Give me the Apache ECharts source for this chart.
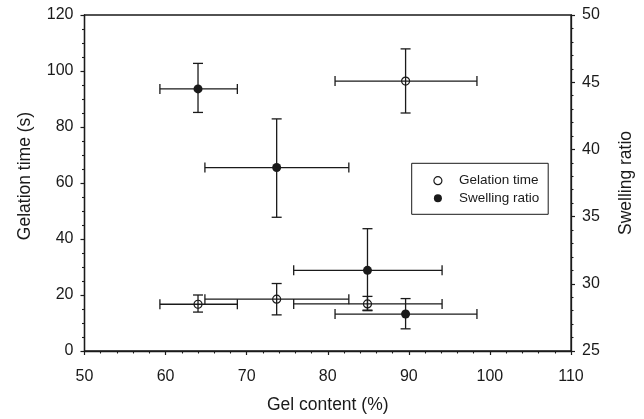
<!DOCTYPE html>
<html>
<head>
<meta charset="utf-8">
<script src="https://cdn.jsdelivr.net/npm/echarts@6/dist/echarts.min.js"></script>
<style>
html,body{margin:0;padding:0;background:#fff;}
#chart{width:644px;height:419px;}
</style>
</head>
<body>
<div id="chart"></div>
<script>
// Gel content (%) per sample, with horizontal error range
const gelContent = [64.0, 73.7, 84.9, 89.6];
const gelContentLow = [59.3, 64.85, 75.8, 80.9];
const gelContentHigh = [68.85, 82.6, 94.1, 98.4];

// Gelation time (s), left axis
const gelationTime = [16.7, 18.5, 16.8, 96.4];
const gelationLow = [13.9, 12.9, 14.6, 85.0];
const gelationHigh = [20.0, 24.1, 19.5, 107.9];

// Swelling ratio, right axis
const swellingRatio = [44.5, 38.65, 31.0, 27.75];
const swellingLow = [42.75, 34.95, 28.0, 26.65];
const swellingHigh = [46.4, 42.27, 34.1, 28.9];

const xTicks = [50, 60, 70, 80, 90, 100, 110];
const leftTicks = [0, 20, 40, 60, 80, 100, 120];
const rightTicks = [25, 30, 35, 40, 45, 50];

const FONT = '"Liberation Sans", Arial, Helvetica, sans-serif';
const INK = '#1a1a1a';

function errRows(ys, lo, hi) {
  return gelContent.map((x, i) => [x, ys[i], gelContentLow[i], gelContentHigh[i], lo[i], hi[i]]);
}

function renderErr(params, api) {
  const x = api.value(0), y = api.value(1);
  const xl = api.value(2), xh = api.value(3), yl = api.value(4), yh = api.value(5);
  const pL = api.coord([xl, y]), pR = api.coord([xh, y]);
  const pB = api.coord([x, yl]), pT = api.coord([x, yh]);
  const cap = 5;
  const st = {stroke: INK, lineWidth: 1.3, fill: null};
  return {
    type: 'group',
    children: [
      {type: 'line', shape: {x1: pL[0], y1: pL[1], x2: pR[0], y2: pR[1]}, style: st},
      {type: 'line', shape: {x1: pL[0], y1: pL[1] - cap, x2: pL[0], y2: pL[1] + cap}, style: st},
      {type: 'line', shape: {x1: pR[0], y1: pR[1] - cap, x2: pR[0], y2: pR[1] + cap}, style: st},
      {type: 'line', shape: {x1: pB[0], y1: pB[1], x2: pT[0], y2: pT[1]}, style: st},
      {type: 'line', shape: {x1: pB[0] - cap, y1: pB[1], x2: pB[0] + cap, y2: pB[1]}, style: st},
      {type: 'line', shape: {x1: pT[0] - cap, y1: pT[1], x2: pT[0] + cap, y2: pT[1]}, style: st}
    ]
  };
}

const axisCommon = {
  axisLine: {show: true, onZero: false, lineStyle: {color: INK, width: 1.3}},
  axisTick: {show: true, inside: false, length: 4, lineStyle: {color: INK, width: 1.2}},
  minorTick: {show: true, length: 2.5, lineStyle: {color: INK, width: 1.1}},
  splitLine: {show: false},
  axisLabel: {color: INK, fontSize: 16, fontFamily: FONT},
  nameTextStyle: {color: INK, fontSize: 17.5, fontFamily: FONT}
};

const chart = echarts.init(document.getElementById('chart'), null, {renderer: 'canvas'});
chart.setOption({
  animation: false,
  backgroundColor: '#fff',
  grid: {left: 84.5, right: 73, top: 15, bottom: 65, show: true, borderColor: INK, borderWidth: 1.3, backgroundColor: 'transparent'},
  legend: {
    orient: 'vertical',
    left: 411.7,
    top: 163.3,
    padding: [9.9, 9, 8.5, 21.6],
    itemWidth: 8,
    itemHeight: 8,
    itemGap: 2.6,
    borderColor: INK,
    borderWidth: 1,
    backgroundColor: '#fff',
    textStyle: {color: INK, fontSize: 13.5, fontFamily: FONT, lineHeight: 15, padding: [0, 0, 0, 12]},
    data: [
      {name: 'Gelation time', icon: 'circle', itemStyle: {color: '#fff', borderColor: INK, borderWidth: 1.2}},
      {name: 'Swelling ratio', icon: 'circle', itemStyle: {color: INK, borderWidth: 0}}
    ]
  },
  xAxis: Object.assign({}, axisCommon, {
    type: 'value', min: xTicks[0], max: xTicks[xTicks.length - 1], interval: 10,
    minorTick: Object.assign({}, axisCommon.minorTick, {splitNumber: 5}),
    axisLabel: Object.assign({}, axisCommon.axisLabel, {margin: 18}),
    name: 'Gel content (%)', nameLocation: 'middle', nameGap: 45
  }),
  yAxis: [
    Object.assign({}, axisCommon, {
      type: 'value', position: 'left', min: leftTicks[0], max: leftTicks[leftTicks.length - 1], interval: 20,
      minorTick: Object.assign({}, axisCommon.minorTick, {splitNumber: 4}),
      axisLabel: Object.assign({}, axisCommon.axisLabel, {margin: 11}),
      name: 'Gelation time (s)', nameLocation: 'middle', nameGap: 50.5,
      nameTextStyle: Object.assign({}, axisCommon.nameTextStyle, {padding: [0, 0, 0, 14]})
    }),
    Object.assign({}, axisCommon, {
      type: 'value', position: 'right', min: rightTicks[0], max: rightTicks[rightTicks.length - 1], interval: 5,
      minorTick: Object.assign({}, axisCommon.minorTick, {splitNumber: 5}),
      axisLabel: Object.assign({}, axisCommon.axisLabel, {margin: 11}),
      name: 'Swelling ratio', nameLocation: 'middle', nameGap: 46
    })
  ],
  series: [
    {
      name: 'Gelation time err', type: 'custom', yAxisIndex: 0, z: 2,
      renderItem: renderErr, data: errRows(gelationTime, gelationLow, gelationHigh),
      encode: {x: [0, 2, 3], y: [1, 4, 5]}, silent: true
    },
    {
      name: 'Swelling ratio err', type: 'custom', yAxisIndex: 1, z: 2,
      renderItem: renderErr, data: errRows(swellingRatio, swellingLow, swellingHigh),
      encode: {x: [0, 2, 3], y: [1, 4, 5]}, silent: true
    },
    {
      name: 'Gelation time', type: 'scatter', yAxisIndex: 0, z: 3,
      symbol: 'circle', symbolSize: 8,
      itemStyle: {color: 'rgba(255,255,255,0)', borderColor: INK, borderWidth: 1.2, opacity: 1},
      data: gelContent.map((x, i) => [x, gelationTime[i]])
    },
    {
      name: 'Swelling ratio', type: 'scatter', yAxisIndex: 1, z: 3,
      symbol: 'circle', symbolSize: 9,
      itemStyle: {color: INK, borderWidth: 0, opacity: 1},
      data: gelContent.map((x, i) => [x, swellingRatio[i]])
    }
  ]
});
</script>
</body>
</html>
